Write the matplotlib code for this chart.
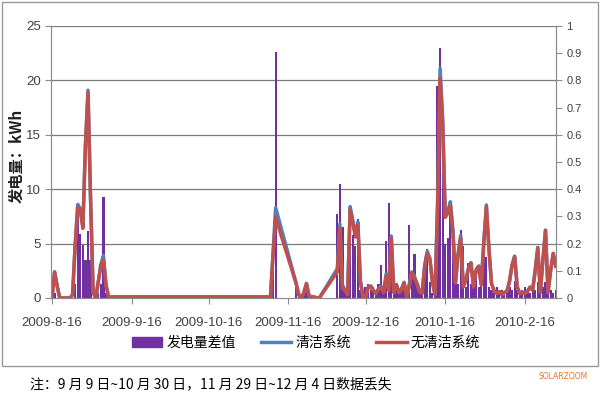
import datetime
import matplotlib
matplotlib.use("Agg")
import matplotlib.pyplot as plt
from matplotlib.patches import Rectangle, Patch
from matplotlib.lines import Line2D

plt.rcParams['font.family'] = ['Liberation Sans', 'Noto Sans CJK SC', 'DejaVu Sans']

base = datetime.date(2009, 8, 16)

# days counted from 2009-8-16 (gaps = lost data)
day = (list(range(0, 23)) + [85, 86, 87] + list(range(95, 105))
       + list(range(111, 197)))

no_clean = [
    0, 2.4, 1.1, 0, 0, 0, 0, 0, 0.3, 4.8, 8.3, 8.0, 6.4, 14.0, 18.9, 9.0,
    0.5, 0, 1.5, 3.0, 3.5, 1.2, 0.1,
    0.1, 4.0, 7.4,
    1.3, 0.3, 0, 0.5, 1.3, 0.2, 0.1, 0.1, 0, 0,
    2.4, 6.4, 0.9, 0.7, 0.3, 8.1, 7.0, 5.6, 6.7, 1.5, 0.1, 0.1, 0.9, 1.1,
    0.7, 0.4, 0.8, 1.0, 0.5, 2.0, 0.7, 5.5, 0.5, 1.2, 0.5, 0.8, 1.4, 0.1,
    1.0, 2.3, 1.8, 1.3, 0.6, 0.4, 2.9, 4.1, 3.6, 1.5, 0.3, 8.0, 20.2, 16.0,
    7.4, 7.8, 8.5, 6.0, 1.4, 4.0, 5.5, 1.0, 1.6, 2.6, 3.2, 1.0, 2.5, 2.9,
    1.2, 5.0, 8.4, 4.5, 1.3, 0.7, 0.4, 0.6, 0.3, 0.5, 0.6, 1.5, 3.0, 3.8,
    1.0, 0.4, 0.5, 0.4, 0.6, 1.0, 0.7, 2.5, 4.6, 0.5, 3.5, 6.2, 0.5, 2.5,
    4.1, 2.9,
]

clean = [
    0, 2.4, 1.1, 0, 0, 0, 0, 0, 0.3, 4.9, 8.6, 8.2, 6.6, 14.1, 19.1, 9.1,
    0.5, 0, 1.5, 3.1, 3.9, 1.2, 0.1,
    0.1, 4.1, 8.3,
    1.35, 0.3, 0, 0.5, 1.35, 0.2, 0.1, 0.1, 0, 0,
    2.7, 6.8, 1.2, 0.7, 0.3, 8.4, 7.2, 5.8, 7.0, 1.5, 0.1, 0.1, 1.0, 1.1,
    0.7, 0.4, 0.85, 1.1, 0.5, 2.2, 1.05, 5.7, 0.5, 1.25, 0.5, 0.85, 1.45, 0.1,
    1.3, 2.4, 2.0, 1.35, 0.6, 0.45, 3.05, 4.3, 3.65, 1.5, 0.3, 8.8, 21.1, 16.5,
    7.6, 8.0, 8.85, 6.2, 1.45, 4.05, 5.75, 1.2, 1.65, 2.75, 3.25, 1.1, 2.6, 2.95,
    1.25, 5.2, 8.55, 4.55, 1.35, 0.7, 0.45, 0.6, 0.3, 0.5, 0.65, 1.55, 3.05, 3.85,
    1.05, 0.4, 0.55, 0.45, 0.65, 1.0, 0.75, 2.55, 4.65, 0.55, 3.55, 6.25, 0.5, 2.55,
    4.1, 2.95,
]

diff = [
    0, 0.02, 0, 0, 0, 0, 0, 0, 0, 0.05, 0.33, 0.235, 0.195, 0.14, 0.245, 0.14,
    0, 0, 0.02, 0.05, 0.37, 0.02, 0,
    0, 0.1, 0.905,
    0.05, 0.02, 0, 0.02, 0.05, 0.01, 0, 0, 0, 0,
    0.31, 0.42, 0.26, 0.03, 0.02, 0.33, 0.23, 0.19, 0.29, 0.03, 0.02, 0.04, 0.05, 0.03,
    0.04, 0.02, 0.05, 0.12, 0.03, 0.21, 0.35, 0.22, 0.04, 0.05, 0.03, 0.04, 0.06, 0.01,
    0.27, 0.09, 0.16, 0.04, 0.03, 0.05, 0.15, 0.18, 0.06, 0.02, 0.01, 0.78, 0.92, 0.46,
    0.20, 0.22, 0.35, 0.20, 0.05, 0.05, 0.25, 0.19, 0.04, 0.13, 0.05, 0.10, 0.11, 0.04,
    0.05, 0.21, 0.15, 0.04, 0.03, 0.02, 0.04, 0.02, 0.03, 0.02, 0.03, 0.04, 0.03, 0.064,
    0.03, 0.02, 0.03, 0.04, 0.03, 0.02, 0.03, 0.03, 0.06, 0.03, 0.04, 0.06, 0.02, 0.03,
    0.02, 0.03,
]

tick_dates = [datetime.date(2009, 8, 16), datetime.date(2009, 9, 16),
              datetime.date(2009, 10, 16), datetime.date(2009, 11, 16),
              datetime.date(2009, 12, 16), datetime.date(2010, 1, 16),
              datetime.date(2010, 2, 16)]
tick_labels = [f"{d.year}-{d.month}-{d.day}" for d in tick_dates]
tick_pos = [(d - base).days for d in tick_dates]

purple = '#7030A0'
blue = '#4F81BD'
red = '#C0504D'
grey = '#8C8C8C'

fig = plt.figure(figsize=(6, 4), dpi=100)
fig.patches.append(Rectangle((0.004, 0.085), 0.992, 0.909, transform=fig.transFigure,
                             fill=False, edgecolor='#9a9a9a', linewidth=1))

# bars on the secondary scale, drawn first so the lines sit on top
ax1 = fig.add_axes([0.085, 0.255, 0.8417, 0.68])
for g in [0.2, 0.4, 0.6, 0.8, 1.0]:
    ax1.axhline(g, color='#7a7a7a', linewidth=0.9, zorder=0)
ax1.bar(day, diff, width=0.85, color=purple, zorder=2)
ax1.set_ylim(0, 1)

ax2 = ax1.twinx()
ax2.plot(day, clean, color=blue, linewidth=2.5, solid_joinstyle='round')
ax2.plot(day, no_clean, color=red, linewidth=2.5, solid_joinstyle='round')
ax2.set_ylim(0, 25)

# swap sides: kWh scale on the left, difference scale on the right
ax1.yaxis.tick_right()
ax2.yaxis.tick_left()
ax1.set_yticks([i / 10 for i in range(11)])
ax1.set_yticklabels(['0', '0.1', '0.2', '0.3', '0.4', '0.5', '0.6', '0.7', '0.8', '0.9', '1'])
ax1.tick_params(axis='y', labelsize=8, colors='#404040', length=4, color=grey)
ax2.set_yticks([0, 5, 10, 15, 20, 25])
ax2.tick_params(axis='y', labelsize=9.5, colors='#404040', length=4, color=grey)

ax1.set_xlim(-0.4, 196.1)
ax1.set_xticks(tick_pos)
ax1.set_xticklabels(tick_labels)
ax1.tick_params(axis='x', labelsize=9.5, colors='#404040', length=4, color=grey, pad=10)

for a in (ax1, ax2):
    a.spines['top'].set_visible(False)
    for s in ('left', 'right', 'bottom'):
        a.spines[s].set_color(grey)

fig.text(0.027, 0.61, '发电量：kWh', rotation=90, ha='center', va='center',
         fontsize=11, fontweight='bold', color='#202020',
         family=['Noto Sans CJK SC', 'DejaVu Sans'])

handles = [Patch(facecolor=purple, edgecolor=purple),
           Line2D([0], [0], color=blue, linewidth=2.5),
           Line2D([0], [0], color=red, linewidth=2.5)]
fig.legend(handles, ['发电量差值', '清洁系统', '无清洁系统'], loc='center',
           bbox_to_anchor=(0.51, 0.143), ncol=3, frameon=False,
           prop={'family': ['Noto Sans CJK SC'], 'size': 10},
           handlelength=2.2, handletextpad=0.3, columnspacing=1.8)

fig.text(0.05, 0.04, '注：9 月 9 日~10 月 30 日，11 月 29 日~12 月 4 日数据丢失',
         fontsize=10, color='#000000', va='center',
         family=['Noto Sans CJK SC', 'DejaVu Sans'])
fig.text(0.98, 0.058, 'SOLARZOOM', fontsize=5.5, color='#E8772E', ha='right',
         va='center', family=['DejaVu Sans'])

fig.savefig('out.png', dpi=100)
